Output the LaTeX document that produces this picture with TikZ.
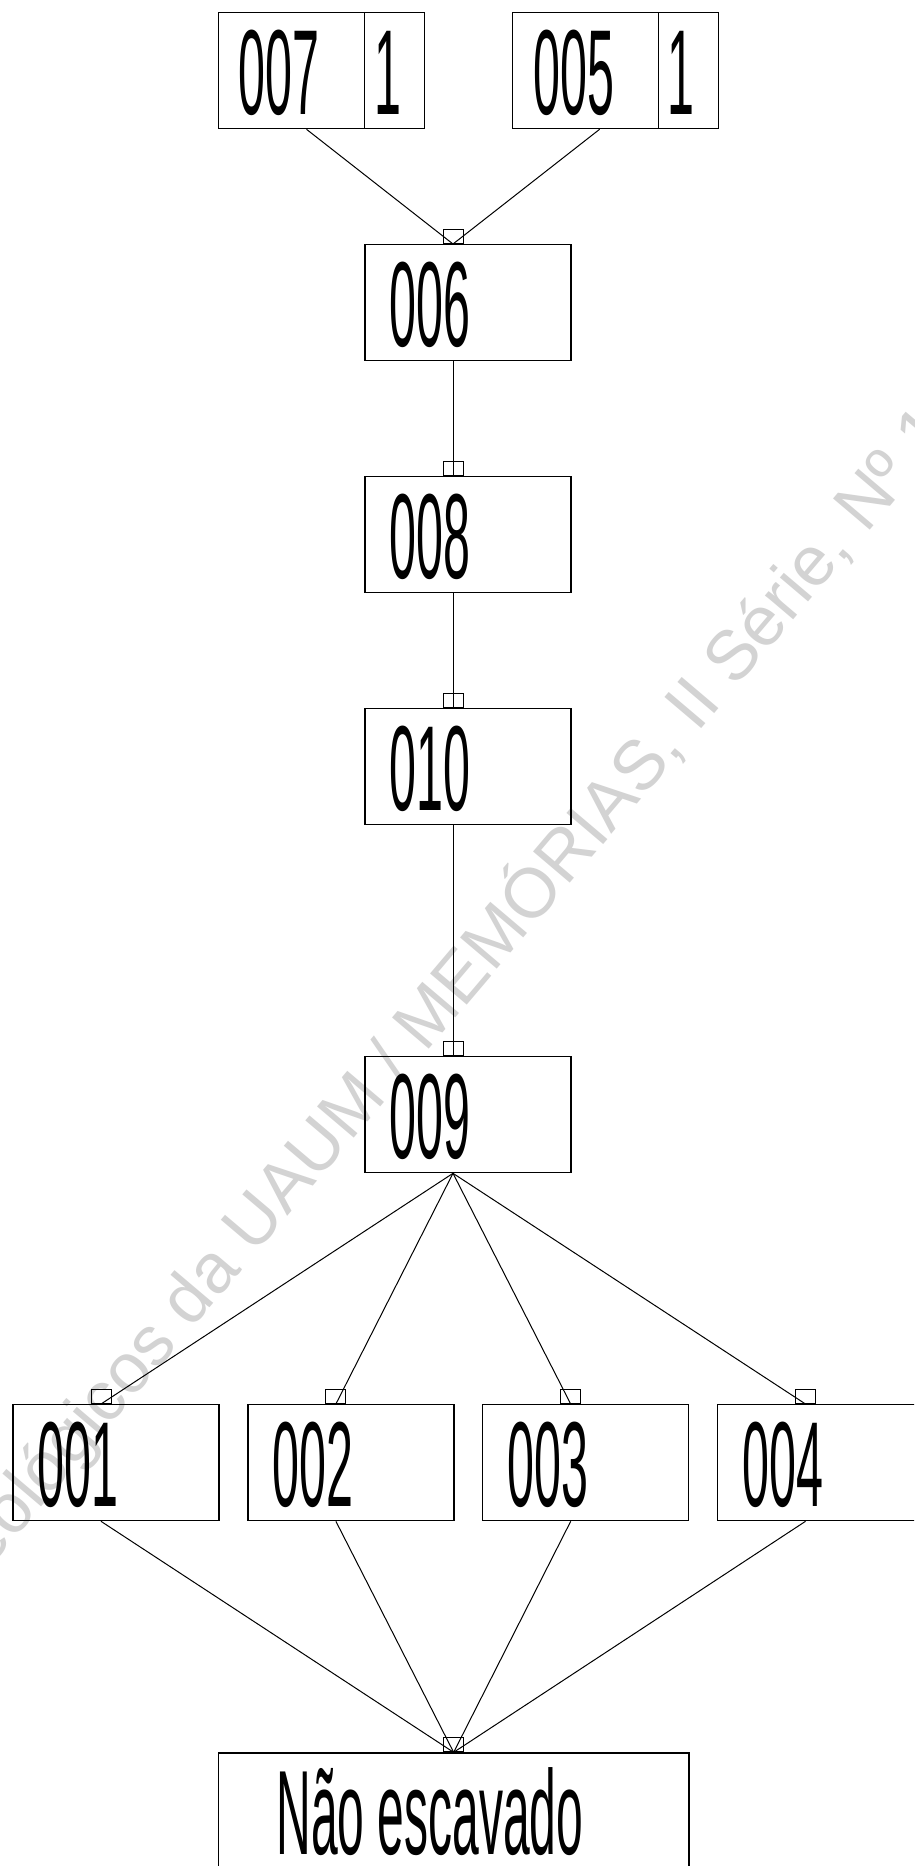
\documentclass[tikz,border=0pt]{standalone}
\usepackage{fontspec}
\setmainfont{Liberation Sans}
\usetikzlibrary{calc}
\definecolor{wmgray}{RGB}{211,211,211}
\newcommand\condtxt[1]{\scalebox{0.40}[1]{#1}}
\begin{document}
\begin{tikzpicture}[x=1pt,y=-1pt,
  box/.style={draw, line width=1.3pt, minimum width=206pt, minimum height=116pt, inner sep=0pt, anchor=north west},
  lbl/.style={inner sep=0pt, anchor=base west, font=\fontsize{121}{121}\selectfont},
  conn/.style={line width=1pt},
  tab/.style={draw, line width=1pt, minimum width=20pt, minimum height=14pt, inner sep=0pt, anchor=south}]
\useasboundingbox (0,0) rectangle (914,1866);
\clip (0,0) rectangle (914,1866);
\fill[white] (0,0) rectangle (914,1866);
% watermark
\node[rotate=49.7, text=wmgray, font=\fontsize{70}{70}\selectfont, anchor=base west, inner sep=0pt] (wm) at (-12,1570) {eológicos da UAUM / MEMÓRIAS, II Série, Nº 1};
% top boxes
\node[box] (n007) at (217.5,12) {};
\node[box] (n005) at (511.6,12) {};
\draw[line width=1.3pt] ([xshift=147pt]n007.north west) -- ([xshift=147pt]n007.south west);
\draw[line width=1.3pt] ([xshift=147pt]n005.north west) -- ([xshift=147pt]n005.south west);
\node[lbl] (t007) at ($(n007.north west)+(21,102)$) {\condtxt{007}};
\node[lbl] (u007) at ($(n007.north west)+(157,102)$) {\condtxt{1}};
\node[lbl] (t005) at ($(n005.north west)+(22,102)$) {\condtxt{005}};
\node[lbl] (u005) at ($(n005.north west)+(156,102)$) {\condtxt{1}};
% middle column
\node[box] (n006) at (364.3,244) {};
\node[box] (n008) at (364.3,476) {};
\node[box] (n010) at (364.3,708) {};
\node[box] (n009) at (364.3,1056) {};
\foreach \n in {006,008,010,009}{
  \node[lbl] (t\n) at ($(n\n.north west)+(25.4,102)$) {\condtxt{\n}};
}
% row
\node[box] (n001) at (12.3,1404) {};
\node[box] (n002) at (247.2,1404) {};
\node[box] (n003) at (482,1404) {};
\node[box] (n004) at (716.8,1404) {};
\foreach \n in {001,002,003,004}{
  \node[lbl] (t\n) at ($(n\n.north west)+(25.4,102)$) {\condtxt{\n}};
}
% bottom
\node[box, minimum width=470.6pt] (nne) at (217.7,1752.3) {};
\node[lbl, font=\fontsize{120}{120}\selectfont] (tne) at ($(nne.north west)+(58.6,101.7)$) {\condtxt{Não escavado}};
% tabs
\foreach \n in {006,008,010,009,001,002,003,004}{
  \node[tab] (q\n) at ([xshift=88.7pt]n\n.north west) {};
}
\node[tab] (qne) at (nne.north) {};
% connectors
\draw[conn] ([xshift=89pt]n007.south west) -- (q006.south);
\draw[conn] ([xshift=88pt]n005.south west) -- (q006.south);
\draw[conn] ([xshift=88.7pt]n006.south west) -- (q008.south);
\draw[conn] ([xshift=88.7pt]n008.south west) -- (q010.south);
\draw[conn] ([xshift=88.7pt]n010.south west) -- (q009.south);
\foreach \n in {001,002,003,004}{
  \draw[conn] ([xshift=88.7pt]n009.south west) -- (q\n.south);
  \draw[conn] ([xshift=88.7pt]n\n.south west) -- (qne.south);
}
\end{tikzpicture}
\end{document}
